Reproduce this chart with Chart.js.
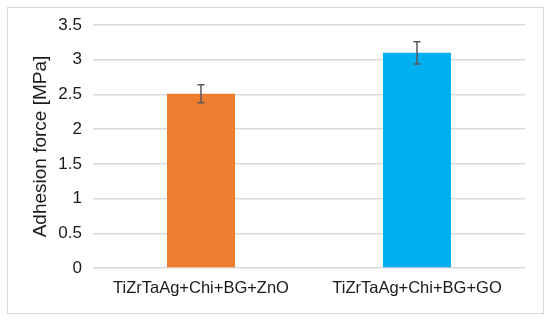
<!DOCTYPE html>
<html>
<head>
<meta charset="utf-8">
<script src="https://cdn.jsdelivr.net/npm/chart.js@4"></script>
<style>
  html, body { margin: 0; padding: 0; background: #fff; }
  #wrap { position: relative; width: 550px; height: 321px; }
  #frame { position: absolute; left: 7px; top: 7px; width: 535px; height: 305px; border: 1px solid #d9d9d9; pointer-events: none; }
</style>
</head>
<body>
<div id="wrap">
  <canvas id="graph" width="550" height="321"></canvas>
  <div id="frame"></div>
</div>
<script>
const labels = ['TiZrTaAg+Chi+BG+ZnO', 'TiZrTaAg+Chi+BG+GO'];
const forces = [2.51, 3.1];
const errors = [0.13, 0.16];
const colors = ['#ED7D31', '#00B0F0'];

const errorBars = {
    id: 'errorBars',
    afterDatasetsDraw(chart) {
        const ctx = chart.ctx;
        const y = chart.scales.y;
        const meta = chart.getDatasetMeta(0);
        ctx.save();
        ctx.strokeStyle = '#595959';
        ctx.lineWidth = 1.5;
        meta.data.forEach((bar, i) => {
            const top = y.getPixelForValue(forces[i] + errors[i]);
            const bottom = y.getPixelForValue(forces[i] - errors[i]);
            ctx.beginPath();
            ctx.moveTo(bar.x, top);
            ctx.lineTo(bar.x, bottom);
            ctx.moveTo(bar.x - 3.5, top);
            ctx.lineTo(bar.x + 3.5, top);
            ctx.moveTo(bar.x - 3.5, bottom);
            ctx.lineTo(bar.x + 3.5, bottom);
            ctx.stroke();
        });
        ctx.restore();
    }
};

const graph = document.getElementById('graph').getContext('2d');

new Chart(graph, {
    type: 'bar',
    data: {
        labels: labels,
        datasets: [{
            data: forces,
            backgroundColor: colors,
            borderWidth: 0,
            categoryPercentage: 1,
            barPercentage: 0.315
        }]
    },
    options: {
        responsive: false,
        animation: false,
        layout: { padding: { top: 25, right: 25, left: 29, bottom: 0 } },
        plugins: {
            legend: { display: false },
            tooltip: { enabled: false }
        },
        scales: {
            x: {
                grid: { display: false, drawTicks: false },
                border: { display: false },
                ticks: { color: '#1a1a1a', padding: 11, font: { family: 'Liberation Sans, Arial', size: 16.5 } },
                afterFit: scale => { scale.height = 53; }
            },
            y: {
                min: 0,
                max: 3.5,
                ticks: {
                    stepSize: 0.5,
                    color: '#1a1a1a',
                    padding: 11,
                    font: { family: 'Liberation Sans, Arial', size: 17 },
                    callback: v => String(v)
                },
                grid: { color: '#d9d9d9', lineWidth: 1.5, drawTicks: false },
                border: { display: false },
                title: {
                    display: true,
                    text: 'Adhesion force [MPa]',
                    color: '#1a1a1a',
                    padding: 0,
                    font: { family: 'Liberation Sans, Arial', size: 19 }
                },
                afterFit: scale => { scale.width = 64; }
            }
        }
    },
    plugins: [errorBars]
});
</script>
</body>
</html>
